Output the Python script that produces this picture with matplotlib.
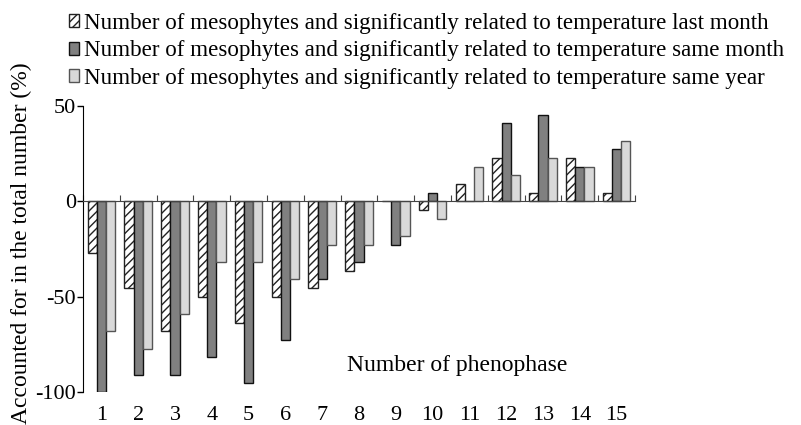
import matplotlib
matplotlib.use('Agg')
import matplotlib.pyplot as plt
import numpy as np

plt.rcParams['font.family'] = ['Liberation Serif', 'DejaVu Serif']
plt.rcParams['axes.unicode_minus'] = False
plt.rcParams['hatch.linewidth'] = 1.0

phenophase = list(range(1, 16))
last_month = [-27.3, -45.5, -68.2, -50.0, -63.6, -50.0, -45.5, -36.4, 0.0, -4.5, 9.1, 22.7, 4.5, 22.7, 4.5]
same_month = [-100.0, -90.9, -90.9, -81.8, -95.5, -72.7, -40.9, -31.8, -22.7, 4.5, 0.0, 40.9, 45.5, 18.2, 27.3]
same_year = [-68.2, -77.3, -59.1, -31.8, -31.8, -40.9, -22.7, -22.7, -18.2, -9.1, 18.2, 13.6, 22.7, 18.2, 31.8]
series_labels = [
    "Number of mesophytes and significantly related to temperature last month",
    "Number of mesophytes and significantly related to temperature same month",
    "Number of mesophytes and significantly related to temperature same year",
]
yticks = [50, 0, -50, -100]

fig = plt.figure(figsize=(8.01, 4.25), dpi=100)
ax = fig.add_axes([83/801, 1 - 392/425, 552/801, 286/425])

x = np.array(phenophase, dtype=float)
w = 0.25
b1 = ax.bar(x - w, last_month, w, facecolor='white', edgecolor='#222222', hatch='////', linewidth=1.0)
b2 = ax.bar(x, same_month, w, facecolor='#808080', edgecolor='#111111', linewidth=1.0)
b3 = ax.bar(x + w, same_year, w, facecolor='#d9d9d9', edgecolor='#555555', linewidth=1.0)

ax.set_xlim(0.5, len(phenophase) + 0.5)
ax.set_ylim(-100, 50)
ax.set_yticks(yticks)
ax.set_yticklabels([str(v) for v in yticks])
ax.tick_params(axis='y', direction='out', length=4, pad=1, labelsize=16, width=1)

ax.spines['top'].set_visible(False)
ax.spines['right'].set_visible(False)
ax.spines['bottom'].set_position(('data', 0))
ax.spines['bottom'].set_color('#444444')
ax.set_xticks(np.arange(0.5, len(phenophase) + 1, 1))
ax.tick_params(axis='x', direction='in', length=4, labelbottom=False, color='#444444')

sec = ax.secondary_xaxis(0)
sec.set_xticks(phenophase)
sec.set_xticklabels([str(p) for p in phenophase])
sec.tick_params(length=0, pad=10, labelsize=16)
sec.spines['bottom'].set_visible(False)

ax.set_xlabel("Number of phenophase", fontsize=17)
ax.xaxis.set_label_coords(0.678, 0.094)
ax.xaxis.label.set_va('center')
ax.set_ylabel("Accounted for in the total number (%)", fontsize=17)
ax.yaxis.set_label_coords(-0.112, 0.52)
ax.yaxis.label.set_va('center')

fig.legend([b1, b2, b3], series_labels, loc='upper left',
           bbox_to_anchor=(69/801, 1 - 13/425), frameon=False, fontsize=16.6,
           handlelength=0.45, handleheight=0.5, handletextpad=0.2,
           labelspacing=0.28, borderpad=0, borderaxespad=0)

fig.savefig('out.png', dpi=100)
